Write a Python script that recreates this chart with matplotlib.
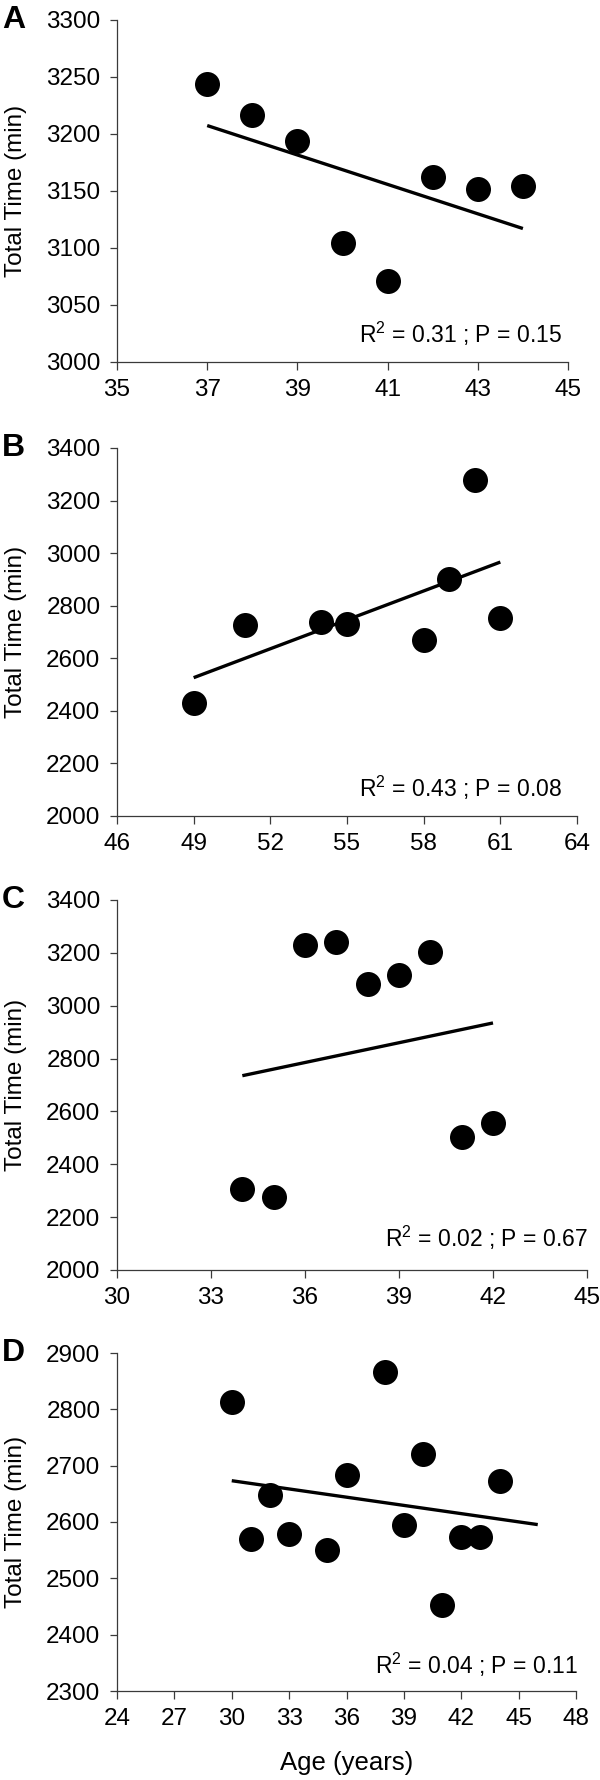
import numpy as np
import matplotlib
matplotlib.use("Agg")
import matplotlib.pyplot as plt
import matplotlib.transforms as mtransforms

plt.rcParams['font.family'] = ['Liberation Sans', 'DejaVu Sans']
plt.rcParams['mathtext.fontset'] = 'custom'
plt.rcParams['mathtext.rm'] = 'Liberation Sans'
plt.rcParams['mathtext.it'] = 'Liberation Sans:italic'

# ---- data ----
A_age = [37, 38, 39, 40, 41, 42, 43, 44]
A_time = [3244, 3217, 3194, 3104, 3071, 3162, 3152, 3154]
B_age = [49, 51, 54, 55, 58, 59, 60, 61]
B_time = [2428, 2726, 2739, 2730, 2669, 2901, 3280, 2753]
C_age = [34, 35, 36, 37, 38, 39, 40, 41, 42]
C_time = [2308, 2276, 3229, 3242, 3082, 3115, 3204, 2502, 2557]
D_age = [30, 31, 32, 33, 35, 36, 38, 39, 40, 41, 42, 43, 44]
D_time = [2813, 2569, 2648, 2578, 2551, 2683, 2867, 2594, 2720, 2453, 2573, 2574, 2672]

fit_ranges = [(37, 44), (49, 61), (34, 42), (30, 46)]
panel_letters = ['A', 'B', 'C', 'D']
stats_text = [r'R$^2$ = 0.31 ; P = 0.15', r'R$^2$ = 0.43 ; P = 0.08',
              r'R$^2$ = 0.02 ; P = 0.67', r'R$^2$ = 0.04 ; P = 0.11']
xticks_list = [np.arange(35, 46, 2), np.arange(46, 65, 3), np.arange(30, 46, 3), np.arange(24, 49, 3)]
yticks_list = [np.arange(3000, 3301, 50), np.arange(2000, 3401, 200),
               np.arange(2000, 3401, 200), np.arange(2300, 2901, 100)]
ylabel = 'Total Time (min)'
xlabel = 'Age (years)'

# ---- layout (pixels) ----
W, H = 600, 1780
fig = plt.figure(figsize=(W / 100, H / 100), dpi=100)
boxes = [(117, 568, 20, 362), (117, 577, 448, 816), (117, 587, 900, 1270), (117, 576, 1353, 1691)]
text_pos = [(0.987, 0.082), (0.967, 0.076), (1.002, 0.086), (1.004, 0.077)]

datasets = [(A_age, A_time), (B_age, B_time), (C_age, C_time), (D_age, D_time)]
spine_color = '#3a3a3a'

for i, ((l, r, t, b), (xs, ys)) in enumerate(zip(boxes, datasets)):
    ax = fig.add_axes([l / W, 1 - b / H, (r - l) / W, (b - t) / H])
    xt, yt = xticks_list[i], yticks_list[i]
    ax.set_xlim(xt[0], xt[-1])
    ax.set_ylim(yt[0], yt[-1])
    ax.set_xticks(xt)
    ax.set_yticks(yt)
    ax.scatter(xs, ys, s=18 ** 2, color='black', zorder=3, clip_on=False, linewidths=0)
    k, c = np.polyfit(xs, ys, 1)
    fx = np.array(fit_ranges[i], dtype=float)
    ax.plot(fx, k * fx + c, color='black', lw=2.4, zorder=2, solid_capstyle='butt')
    for s in ['top', 'right']:
        ax.spines[s].set_visible(False)
    for s in ['left', 'bottom']:
        ax.spines[s].set_color(spine_color)
        ax.spines[s].set_linewidth(0.9)
    ax.tick_params(axis='both', direction='out', length=5.4, width=0.9, color=spine_color,
                   labelsize=17.5, pad=6.5, labelcolor='black')
    ax.text(text_pos[i][0], text_pos[i][1], stats_text[i], transform=ax.transAxes,
            ha='right', va='center', fontsize=16.5)
    ax.set_ylabel(ylabel, fontsize=17.5)
    ax.yaxis.set_label_coords(27 / W, 0.5,
                              transform=mtransforms.blended_transform_factory(fig.transFigure, ax.transAxes))
    fig.text(2 / W, 1 - t / H, panel_letters[i], fontsize=23, fontweight='bold',
             ha='left', va='center')
    if i == 3:
        ax.set_xlabel(xlabel, fontsize=18.5)
        ax.xaxis.set_label_coords(0.5, (1691 - 1751) / (b - t))

fig.savefig('out.png', dpi=100)
